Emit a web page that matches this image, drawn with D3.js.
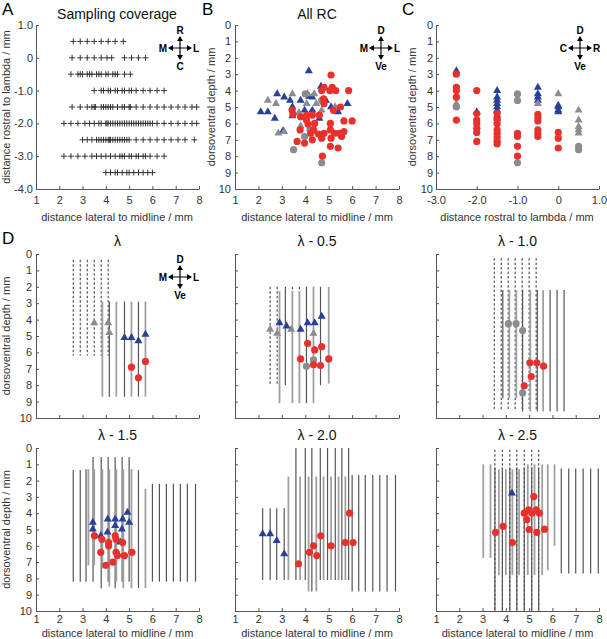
<!DOCTYPE html>
<html>
<head>
<meta charset="utf-8">
<script src="https://cdn.jsdelivr.net/npm/d3@7"></script>
<style>
body { margin: 0; background: #fff; }
svg { font-family: "Liberation Sans", Arial, sans-serif; }
.axis path, .axis line { stroke: #555; }
.axis text { fill: #333; font-size: 11px; font-family: "Liberation Sans", Arial, sans-serif; }
.lbl { fill: #333; font-size: 11px; }
.ttl { fill: #111; font-size: 14px; }
.letter { fill: #000; font-size: 17px; }
.cmp { fill: #000; font-size: 10px; font-weight: bold; }
</style>
</head>
<body>
<svg id="fig" width="607" height="639"></svg>
<script>
// ---- A: sampling coverage (rows of rostral position, lateral positions of tracks)
var covRostral = [0.5, 0, -0.5, -1.0, -1.5, -2.0, -2.5, -3.0, -3.5];
var covLateral = [
	[2.6, 2.9, 3.2, 3.5, 3.8, 4.1, 4.4, 4.75],
	[2.55, 2.9, 3.2, 3.5, 3.8, 4.05, 4.25, 4.8, 5.1, 5.4, 5.7],
	[2.5, 2.8, 2.9, 3.0, 3.2, 3.3, 3.4, 3.6, 3.7, 3.8, 4.0, 4.1, 4.3, 4.4, 4.5, 4.8, 5.05],
	[3.5, 3.8, 3.9, 4.1, 4.2, 4.4, 4.5, 4.7, 4.8, 5.0, 5.1, 5.3, 5.6, 5.9, 6.2, 6.5],
	[2.55, 2.9, 3.2, 3.4, 3.5, 3.55, 3.8, 3.9, 4.0, 4.1, 4.2, 4.3, 4.5, 4.7, 4.8, 5.0, 5.05, 5.3, 5.6, 5.9, 6.2, 6.5, 6.8, 7.1, 7.4, 7.7, 7.9],
	[2.2, 2.5, 2.8, 3.1, 3.3, 3.5, 3.7, 3.8, 4.0, 4.05, 4.1, 4.2, 4.3, 4.4, 4.5, 4.6, 4.7, 4.8, 4.9, 5.0, 5.1, 5.2, 5.3, 5.4, 5.5, 5.6, 5.7, 5.8, 5.9, 6.0, 6.2, 6.5, 6.8, 7.1, 7.4, 7.7, 7.9],
	[3.0, 3.2, 3.4, 3.6, 3.7, 3.8, 3.9, 4.0, 4.1, 4.15, 4.2, 4.3, 4.4, 4.5, 4.6, 4.7, 4.8, 4.9, 5.0, 5.3, 5.6, 5.9, 6.2, 6.5, 6.8, 7.1, 7.4, 7.8],
	[2.2, 2.5, 2.8, 3.1, 3.4, 3.6, 3.8, 4.0, 4.2, 4.4, 4.6, 4.7, 4.8, 5.0, 5.1, 5.3, 5.4, 5.6, 5.7, 5.9, 6.2, 6.5],
	[4.0, 4.2, 4.4, 4.5, 4.7, 4.9, 5.0, 5.2, 5.4, 5.6, 5.8, 6.0]
];
var aYTicks = [1, 0, -1, -2, -3, -4];
var lateralTicks = [1, 2, 3, 4, 5, 6, 7, 8];
var depthTicks = [0, 1, 2, 3, 4, 5, 6, 7, 8, 9, 10];
var rostralTicks = [-3, -2, -1, 0, 1];

// ---- B: all RC, [lateral, depth]
var bBlueTri = [[4.15,2.8],[2.1,5.3],[2.4,5.3],[2.8,4.2],[2.7,5.7],[3.1,4.4],[3.35,4.6],[3.45,5.0],[3.05,6.45],[3.45,5.55],[3.8,4.6],[3.97,5.2],[4.16,4.35],[4.3,4.4],[4.3,5.2],[4.6,5.7],[4.67,3.75],[4.88,4.6],[5.1,5.0],[5.4,5.3],[5.8,4.8]];
var bGrayTri = [[2.4,4.6],[2.75,4.8],[3.45,4.2],[2.85,6.6],[3.1,6.5],[3.73,5.35],[3.8,6.15],[4.1,4.2],[4.38,4.2],[4.06,4.8],[4.47,4.8],[4.7,5.2],[5.27,5.0]];
var bGrayCirc = [[3.97,6.8],[4.2,6.4],[3.5,7.6],[4.7,8.4],[4.7,4.6],[4.0,4.2]];
var bRed = [[5.1,3.05],[4.7,4.0],[4.8,3.8],[5.05,4.0],[5.15,3.8],[5.3,4.0],[5.85,4.0],[4.78,4.5],[4.8,4.8],[3.44,5.2],[3.47,5.45],[3.8,5.6],[4.06,5.5],[4.3,5.5],[4.6,5.5],[5.2,5.2],[5.5,5.0],[5.65,5.85],[6.0,5.85],[4.05,5.8],[4.12,6.05],[4.4,6.0],[3.78,6.4],[4.35,6.4],[5.07,6.0],[5.07,6.4],[4.8,6.6],[4.56,6.65],[4.23,6.6],[4.7,6.9],[5.25,6.6],[5.1,6.9],[5.45,6.6],[5.65,6.5],[5.55,6.8],[3.65,7.1],[3.97,7.2],[4.3,7.0],[5.07,7.4],[5.4,7.5],[4.73,8.0]];

// ---- C: [rostral, depth]
var cBlueTri = [[-2.5,2.8],[-2.5,4.9],[-2.0,5.3],[-1.5,4.0],[-1.5,4.4],[-1.5,4.6],[-1.5,4.8],[-1.5,5.0],[-1.5,5.2],[-1.5,5.5],[-1.5,5.7],[-0.5,3.8],[-0.5,4.2],[-0.5,4.4],[-0.5,4.6],[0,4.9],[0,5.0],[0,5.2],[0,5.3]];
var cGrayTri = [[-2.5,4.8],[-2.0,6.2],[-0.5,4.8],[0,4.2],[0.5,5.2],[0.5,5.8],[0.5,6.2],[0.5,6.4],[0.5,6.6]];
var cGrayCirc = [[-2.5,5.0],[-1.0,4.2],[-1.0,4.6],[-1.0,8.4],[0.5,7.4],[0.5,7.6]];
var cRed = [[-2.5,3.0],[-2.5,3.8],[-2.5,4.0],[-2.5,4.4],[-2.5,5.8],[-2.0,4.0],[-2.0,5.4],[-2.0,5.8],[-2.0,6.0],[-2.0,6.3],[-2.0,6.55],[-2.0,7.1],[-1.5,5.4],[-1.5,5.7],[-1.5,6.0],[-1.5,6.4],[-1.5,6.6],[-1.5,6.85],[-1.5,7.1],[-1.5,7.25],[-1.0,6.6],[-1.0,6.8],[-1.0,7.4],[-1.0,8.0],[-0.5,5.45],[-0.5,5.65],[-0.5,5.85],[-0.5,6.4],[-0.5,6.6],[-0.5,6.8],[0,6.55],[0,6.9],[0,7.5]];

// ---- D: tracks [lateral, top, bottom], cells [lateral, depth]
var dTitles = ["\u03bb", "\u03bb - 0.5", "\u03bb - 1.0", "\u03bb - 1.5", "\u03bb - 2.0", "\u03bb - 2.5"];

var d0Dashed = [[2.6,0.35,6.2],[2.9,0.35,6.2],[3.2,0.35,6.2],[3.5,0.35,6.2],[3.8,0.35,6.2],[4.1,0.35,6.2]];
var d0Dark = [[4.15,2.9,8.7],[4.8,2.9,8.7],[5.4,2.9,8.7]];
var d0Light = [[3.85,2.9,8.7],[4.45,2.9,8.7],[5.1,2.9,8.7],[5.7,2.9,8.7]];
var d0Blue = [[4.8,5.1],[5.1,5.1],[5.4,5.3],[5.7,4.9]];
var d0GrayTri = [[3.5,4.2],[4.1,4.2],[4.15,4.8]];
var d0Red = [[5.1,6.9],[5.4,7.55],[5.7,6.55]];
var d0GrayCirc = [];

var d1Dashed = [[2.5,2.0,8.0],[2.8,2.0,8.0],[3.45,2.0,8.0],[3.75,2.0,8.0],[4.05,2.0,8.0],[4.35,2.0,8.0]];
var d1Dark = [[3.15,2.0,8.0],[4.05,2.0,9.1],[4.65,2.0,8.0]];
var d1Light = [[2.9,2.25,9.1],[3.45,2.25,9.1],[3.75,2.25,9.1],[4.35,2.0,9.1],[5.0,2.0,7.9]];
var d1Blue = [[2.9,4.2],[3.2,4.4],[3.8,4.6],[4.1,4.2],[4.4,4.2],[4.7,3.8]];
var d1GrayTri = [[2.5,4.6],[2.8,4.85],[3.4,4.6],[4.35,4.85]];
var d1Red = [[4.1,5.45],[4.4,5.85],[4.7,5.65],[3.8,6.4],[5.0,6.4],[4.35,6.75],[4.65,6.8]];
var d1GrayCirc = [[4.05,6.85],[4.35,6.45]];

var d2Dashed = [[3.5,0.25,9.5],[3.8,0.25,9.5],[4.1,0.25,9.5],[4.4,0.25,9.5],[4.7,0.25,9.5],[5.0,0.25,9.5],[5.3,0.25,9.5]];
var d2Dark = [[3.87,2.2,8.8],[4.72,2.2,9.6],[5.35,2.2,9.6],[5.9,2.2,9.6],[6.2,2.2,9.6],[6.5,2.2,9.6]];
var d2Light = [[4.15,2.2,8.8],[4.45,2.2,8.8],[5.05,2.2,9.6],[5.6,2.2,9.6]];
var d2Blue = [];
var d2GrayTri = [];
var d2Red = [[5.03,6.63],[5.33,6.63],[5.62,6.84],[5.09,7.47],[4.79,8.04]];
var d2GrayCirc = [[4.11,4.25],[4.44,4.25],[4.72,4.67],[4.72,8.47]];

var d3Dashed = [];
var d3Dark = [[2.6,1.35,8.2],[2.9,1.35,8.2],[3.15,1.3,8.2],[3.45,0.55,8.2],[3.8,0.55,8.6],[4.1,0.55,8.2],[4.4,0.55,8.6],[4.7,0.55,8.2],[5.0,0.55,8.2],[5.4,1.35,8.6],[6.0,2.2,8.2],[6.3,2.2,8.2],[6.6,2.2,8.2],[6.9,2.2,8.2],[7.2,2.2,8.2],[7.5,2.2,8.2],[7.85,2.2,8.2]];
var d3Light = [[3.25,1.3,7.2],[3.5,1.3,7.2],[3.85,1.3,7.4],[4.15,1.3,8.5],[4.45,1.3,8.2],[4.75,1.3,8.6],[5.1,1.3,8.6],[5.7,2.5,8.6]];
var d3Blue = [[3.44,4.57],[3.44,4.98],[3.78,5.39],[4.08,4.36],[4.4,4.36],[4.72,4.36],[4.93,3.95],[5.0,4.57],[4.4,4.77],[4.07,5.16],[4.69,4.98],[4.62,5.78]];
var d3GrayTri = [];
var d3Red = [[3.51,5.39],[3.83,5.6],[4.12,5.8],[4.12,6.0],[4.4,5.39],[4.44,5.6],[4.72,5.8],[3.78,6.4],[4.44,6.4],[4.5,6.6],[4.8,6.6],[5.12,6.4],[4.0,7.2],[4.3,7.0]];
var d3GrayCirc = [];

var d4Dashed = [];
var d4Dark = [[2.18,3.7,8.1],[2.5,3.7,8.1],[2.78,3.7,8.1],[3.1,3.7,8.1],[3.6,0,8.1],[4.0,0,8.1],[4.28,0,8.8],[4.64,0,8.1],[4.95,0,8.1],[5.28,0,8.1],[5.56,0,8.1],[5.85,0,8.1],[6.0,1.65,8.8],[6.28,1.65,8.8],[6.56,1.65,8.8],[6.88,1.65,8.8],[7.18,1.65,8.8],[7.49,1.65,8.8],[7.85,1.65,8.8]];
var d4Light = [[3.28,1.75,8.1],[3.78,1.75,8.1],[4.14,1.75,8.8],[4.47,1.75,8.8],[4.78,1.75,8.1],[5.1,1.75,8.1],[5.42,1.75,8.1],[5.71,1.75,8.1]];
var d4Blue = [[2.18,5.27],[2.5,5.27],[2.78,5.68],[3.1,6.5]];
var d4GrayTri = [];
var d4Red = [[3.71,7.1],[4.18,6.4],[4.35,6.0],[4.49,6.6],[4.66,5.39],[5.1,6.0],[5.71,5.8],[6.04,5.8],[5.89,4.0]];
var d4GrayCirc = [];

var d5Dashed = [[3.53,0.1,10],[3.85,0.1,10],[4.17,0.1,10],[4.47,0.1,10],[4.79,0.1,10],[5.11,0.1,10],[5.41,0.1,10]];
var d5Dark = [[3.53,1.2,10],[3.85,1.2,10],[4.17,1.2,10],[4.47,1.2,10],[4.79,1.2,10],[5.11,1.2,10],[5.41,1.2,10],[6.38,1.25,7.7],[6.7,1.25,7.7],[7.0,1.25,7.7],[7.32,1.25,7.7],[7.64,1.25,7.7],[7.97,1.25,7.7]];
var d5Light = [[3.03,1.0,6.75],[3.34,1.0,6.75],[3.7,1.3,7.8],[4.0,1.3,7.8],[4.28,1.3,7.8],[4.57,1.3,7.8],[4.94,1.0,7.8],[5.23,1.0,7.8],[5.56,1.0,7.8],[5.8,1.0,7.5],[6.09,1.0,6.0]];
var d5Blue = [[4.26,2.77]];
var d5GrayTri = [];
var d5Red = [[5.2,2.98],[4.79,4.0],[4.98,3.8],[5.12,4.0],[5.3,3.8],[5.44,4.0],[4.9,4.4],[3.56,5.18],[3.88,4.8],[5.0,5.0],[5.33,5.18],[5.66,4.98],[4.28,5.8]];
var d5GrayCirc = [];

var RED = "#e8312c", BLUE = "#28409a", GRAY = "#8a8d90";

var svg = d3.select("#fig");
var cols = [[36, 199], [235, 399], [436, 599]];
var rows = [[25, 189], [254, 418], [448, 611]];

function fmt1(d) { return d === 0 ? "0" : d.toFixed(1); }
function fmtInt(d) { return String(d); }

// build a panel: scales + axes
function panel(col, row, xDom, yDom, o) {
	var x = d3.scaleLinear().domain(xDom).range(cols[col]);
	var y = d3.scaleLinear().domain(yDom).range(rows[row]);
	var g = svg.append("g");
	var xa = d3.axisBottom(x).tickValues(o.xTicks).tickSizeInner(-3).tickSizeOuter(0).tickPadding(o.xPad || 7)
		.tickFormat(o.xLabels ? (o.xFmt || fmtInt) : "");
	g.append("g").attr("class", "axis").attr("transform", "translate(0," + rows[row][1] + ")").call(xa);
	var ya = d3.axisLeft(y).tickValues(o.yTicks).tickSizeInner(-3).tickSizeOuter(0).tickPadding(o.yPad || 4)
		.tickFormat(o.yLabels ? (o.yFmt || fmtInt) : "");
	g.append("g").attr("class", "axis").attr("transform", "translate(" + cols[col][0] + ",0)").call(ya);
	return { g: g, x: x, y: y };
}

function tracks(p, data, color, width, dash) {
	p.g.selectAll(null).data(data).enter().append("line")
		.attr("x1", function(d) { return p.x(d[0]); })
		.attr("x2", function(d) { return p.x(d[0]); })
		.attr("y1", function(d) { return p.y(d[1]); })
		.attr("y2", function(d) { return p.y(d[2]); })
		.attr("stroke", color).attr("stroke-width", width)
		.attr("stroke-dasharray", dash || null);
}

function tris(p, data, color) {
	var sym = d3.symbol().type(d3.symbolTriangle).size(28);
	p.g.selectAll(null).data(data).enter().append("path")
		.attr("d", sym)
		.attr("transform", function(d) { return "translate(" + p.x(d[0]) + "," + p.y(d[1]) + ")"; })
		.attr("fill", color);
}

function dots(p, data, color) {
	p.g.selectAll(null).data(data).enter().append("circle")
		.attr("cx", function(d) { return p.x(d[0]); })
		.attr("cy", function(d) { return p.y(d[1]); })
		.attr("r", 3.6)
		.attr("fill", color);
}

function compass(cx, cy, t, b, l, r) {
	var c = svg.append("g");
	c.append("path").attr("d", "M" + (cx - 8) + "," + cy + "H" + (cx + 8) + "M" + cx + "," + (cy - 8) + "V" + (cy + 8))
		.attr("stroke", "#000").attr("stroke-width", 1.2);
	c.append("path").attr("fill", "#000").attr("d",
		"M" + (cx + 12) + "," + cy + "L" + (cx + 7) + "," + (cy - 3) + "L" + (cx + 7) + "," + (cy + 3) + "Z" +
		"M" + (cx - 12) + "," + cy + "L" + (cx - 7) + "," + (cy - 3) + "L" + (cx - 7) + "," + (cy + 3) + "Z" +
		"M" + cx + "," + (cy - 12) + "L" + (cx - 3) + "," + (cy - 7) + "L" + (cx + 3) + "," + (cy - 7) + "Z" +
		"M" + cx + "," + (cy + 12) + "L" + (cx - 3) + "," + (cy + 7) + "L" + (cx + 3) + "," + (cy + 7) + "Z");
	c.append("text").attr("class", "cmp").attr("x", cx).attr("y", cy - 14).attr("text-anchor", "middle").text(t);
	c.append("text").attr("class", "cmp").attr("x", cx).attr("y", cy + 22).attr("text-anchor", "middle").text(b);
	c.append("text").attr("class", "cmp").attr("x", cx - 13).attr("y", cy + 4).attr("text-anchor", "end").text(l);
	c.append("text").attr("class", "cmp").attr("x", cx + 13).attr("y", cy + 4).attr("text-anchor", "start").text(r);
}

function text(cls, x, y, s, anchor, rot) {
	var t = svg.append("text").attr("class", cls).attr("text-anchor", anchor || "middle").text(s);
	if (rot) t.attr("transform", "translate(" + x + "," + y + ") rotate(-90)");
	else t.attr("x", x).attr("y", y);
	return t;
}

// ---------- A
var pA = panel(0, 0, [1, 8], [1, -4], { xTicks: lateralTicks, xLabels: true, yTicks: aYTicks, yLabels: true, yFmt: fmt1, yPad: 3 });
var plus = [];
covRostral.forEach(function(r, i) { covLateral[i].forEach(function(l) { plus.push([l, r]); }); });
pA.g.selectAll(null).data(plus).enter().append("path")
	.attr("d", function(d) {
		var px = pA.x(d[0]), py = pA.y(d[1]);
		return "M" + (px - 3) + "," + py + "H" + (px + 3) + "M" + px + "," + (py - 3) + "V" + (py + 3);
	})
	.attr("stroke", "#333").attr("stroke-width", 1);
compass(180, 48, "R", "C", "M", "L");
text("letter", 2, 15, "A", "start");
text("ttl", 117, 19, "Sampling coverage");
text("lbl", 117, 221, "distance lateral to midline / mm");
text("lbl", 10, 107, "distance rostral to lambda / mm", "middle", true);

// ---------- B
var pB = panel(1, 0, [1, 8], [0, 10], { xTicks: lateralTicks, xLabels: true, yTicks: depthTicks, yLabels: true });
tris(pB, bBlueTri, BLUE);
tris(pB, bGrayTri, GRAY);
dots(pB, bGrayCirc, GRAY);
dots(pB, bRed, RED);
compass(381, 48, "D", "Ve", "M", "L");
text("letter", 202, 15, "B", "start");
text("ttl", 317, 19, "All RC");
text("lbl", 317, 221, "distance lateral to midline / mm");
text("lbl", 215, 107, "dorsoventral depth / mm", "middle", true);

// ---------- C
var pC = panel(2, 0, [-3, 1], [0, 10], { xTicks: rostralTicks, xLabels: true, xFmt: fmt1, yTicks: depthTicks, yLabels: true, yPad: 3 });
tris(pC, cBlueTri, BLUE);
tris(pC, cGrayTri, GRAY);
dots(pC, cGrayCirc, GRAY);
dots(pC, cRed, RED);
compass(580, 48, "D", "Ve", "C", "R");
text("letter", 402, 15, "C", "start");
text("lbl", 517, 221, "distance rostral to lambda / mm");
text("lbl", 416, 107, "dorsoventral depth / mm", "middle", true);

// ---------- D
var dSets = [
	{ dashed: d0Dashed, dark: d0Dark, light: d0Light, blue: d0Blue, grayTri: d0GrayTri, red: d0Red, grayCirc: d0GrayCirc },
	{ dashed: d1Dashed, dark: d1Dark, light: d1Light, blue: d1Blue, grayTri: d1GrayTri, red: d1Red, grayCirc: d1GrayCirc },
	{ dashed: d2Dashed, dark: d2Dark, light: d2Light, blue: d2Blue, grayTri: d2GrayTri, red: d2Red, grayCirc: d2GrayCirc },
	{ dashed: d3Dashed, dark: d3Dark, light: d3Light, blue: d3Blue, grayTri: d3GrayTri, red: d3Red, grayCirc: d3GrayCirc },
	{ dashed: d4Dashed, dark: d4Dark, light: d4Light, blue: d4Blue, grayTri: d4GrayTri, red: d4Red, grayCirc: d4GrayCirc },
	{ dashed: d5Dashed, dark: d5Dark, light: d5Light, blue: d5Blue, grayTri: d5GrayTri, red: d5Red, grayCirc: d5GrayCirc }
];
dSets.forEach(function(s, i) {
	var col = i % 3, row = 1 + Math.floor(i / 3);
	var p = panel(col, row, [1, 8], [0, 10], {
		xTicks: lateralTicks, xLabels: row === 2, xPad: 4,
		yTicks: depthTicks, yLabels: col === 0
	});
	tracks(p, s.dashed, "#333", 1, "2.5,2");
	tracks(p, s.dark, "#555", 1.2);
	tracks(p, s.light, "#a0a0a0", 1.8);
	tris(p, s.grayTri, GRAY);
	tris(p, s.blue, BLUE);
	dots(p, s.grayCirc, GRAY);
	dots(p, s.red, RED);
	var cx = (cols[col][0] + cols[col][1]) / 2;
	text("ttl", cx, rows[row][0] - 8, dTitles[i]);
	if (row === 2) text("lbl", cx, 637, "distance lateral to midline / mm");
	if (col === 0) text("lbl", 10, (rows[row][0] + rows[row][1]) / 2, "dorsoventral depth / mm", "middle", true);
});
compass(180, 277, "D", "Ve", "M", "L");
text("letter", 2, 244, "D", "start");
</script>
</body>
</html>
